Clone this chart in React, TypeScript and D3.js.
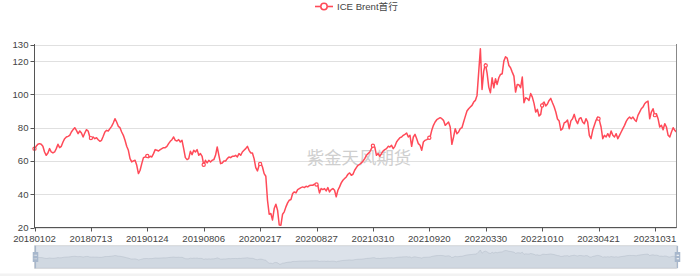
import React from 'react';
import * as d3 from 'd3';

const legendName = 'ICE Brent首行';
const watermarkText = '紫金天风期货';
const xLabels = ['20180102', '20180713', '20190124', '20190806', '20200217', '20200827', '20210310', '20210920', '20220330', '20221010', '20230421', '20231031'];
const yTicks = [20, 40, 60, 80, 100, 120, 130];
const categoryCount = 1549;
const labelInterval = 136;

const brentValues = [
  // 2018
  67.4, 68.8, 70, 70.4, 70, 68.8, 65.4, 63.4, 64.8, 67.4, 65.4, 64.8, 65.4, 67.4, 70, 68, 68.8, 71.4, 73.4, 74.4,
  74.8, 75.4, 77.4, 78.8, 80, 78.4, 76.4, 78, 76.8, 74.4, 76.8, 78.8, 78, 74.4, 73.4, 74.4, 73.4, 74, 72.8, 71.8,
  72.4, 74.8, 77.4, 78.4, 78, 79.4, 80.8, 82.8, 85.4, 83.4, 80.8, 80, 77.4, 75.4, 72.4, 68.8, 66.4, 61.4, 59.4, 60,
  60.4, 57.4, 52.4, 54.4, 58.4, 62,
  // 2019
  62.4, 63.4, 62, 62.8, 62.4, 64.4, 66.8, 66.4, 66, 66.8, 67.4, 68, 68, 68.8, 70.4, 71.8, 72.8, 74.4, 72.4, 72,
  72.8, 71.4, 72.4, 67.4, 62, 60.8, 61.4, 65.8, 63.8, 66.4, 65.4, 66.8, 63.4, 64.4, 62.8, 57.4, 60.4, 58.8, 60.4, 59.4,
  60.4, 60.8, 63.4, 68.4, 63.4, 58.4, 58.8, 60, 60, 61.4, 62.4, 62, 62.8, 62.8, 63.4, 62.4, 64.4, 63.4, 65.4, 66.4,
  67.4, 68.8, 66.4, 64.8,
  // 2020
  64.8, 61.4, 56, 54, 57.4, 58.8, 56.4, 52.4, 50.8, 36.4, 28, 28.4, 24.5, 31.4, 34, 30.4, 21.5, 21.4, 28, 29.4,
  32.4, 34.8, 36.4, 36.8, 40.4, 41.4, 40.8, 42.8, 43.4, 44, 44.4, 44, 44.8, 44.4, 45.2, 45.4, 45.4, 46, 46, 45.4,
  40.8, 43.4, 42.8, 43.4, 42, 44, 41.4, 42.8, 43.4, 42.4, 38.4, 42.4, 44.4, 46.8, 48.4, 49.4, 50.4, 52, 52.8, 51.4,
  52, 54.4, 56, 57.4,
  // 2021
  58, 58.8, 60, 61.4, 63.4, 64.4, 65.4, 67.4, 69.4, 68.4, 63.4, 64.4, 62.8, 64.4, 66, 66.8, 67.4, 68.8, 68.4, 69.4,
  67.4, 68.8, 71.4, 72.8, 74, 74.4, 75.4, 76, 76.8, 74.4, 75.4, 68.8, 74.4, 76, 73.4, 70.4, 69.4, 66.4, 71.4, 72.4,
  72.8, 73.4, 74.4, 78.4, 81.4, 83.4, 84.8, 85.4, 86, 85.4, 84.4, 81.4, 82.4, 83.4, 80.4, 70, 74.4, 79.4, 76.4, 77.4,
  79.4, 80, 83.4, 86.8,
  // 2022
  90, 91.4, 92.4, 93.4, 95.4, 96.4, 99.4, 113.4, 127.4, 103, 114, 118.4, 112.8, 104.4, 101, 110, 104, 109.4, 106, 110,
  112, 112.4, 120, 122.6, 121.8, 117.4, 116, 113.4, 111, 101.4, 106, 105.8, 104, 110.4, 95, 98, 97.5, 96.4, 100.5, 98.4,
  94.6, 89.4, 91, 87, 88, 94.4, 95.4, 93, 94.2, 96.4, 97.6, 95, 92.6, 89.4, 85.2, 84, 78.5, 79.4, 82.9, 83.4,
  84.6, 79.4, 84.1, 85.4,
  // 2023
  88, 84.4, 82.4, 85.4, 86, 83.4, 82.4, 85.4, 83.4, 75.4, 73.4, 78.4, 81.4, 84.4, 86.4, 84.4, 80.4, 73.4, 75.4, 74.4,
  76.4, 74.4, 78, 75.4, 74.4, 76.4, 73.4, 75.4, 77.4, 79.4, 81.4, 83.8, 85.4, 86.4, 85.4, 86.4, 84.8, 83.8, 87.4, 89.4,
  91.4, 92.4, 94.4, 95.4, 96, 85.4, 89.4, 91.4, 87.4, 88.4, 85.4, 80.4, 81.4, 78.8, 82.4, 80.4, 75.4, 74.4, 77.4, 80,
  78.4, 77.4,
];

const W = 700;
const H = 276;
const left = 34.5;
const right = 676.5;
const top = 44.5;
const bottom = 227.5;
const lineColor = '#ff4a58';
const axisColor = '#555';
const textColor = '#444';
const fontFamily = '"Liberation Sans", Arial, "Noto Sans CJK SC", sans-serif';
const fontSize = 9.6;

const sliderTop = 245.7;
const sliderBottom = 268.3;

export default function App() {
  const n = brentValues.length;
  const xCat = d3.scaleLinear().domain([0, categoryCount - 1]).range([left, right]);
  const catOf = (i: number) => (i * (categoryCount - 1)) / (n - 1);
  const y = d3.scaleLinear().domain([20, 130]).range([bottom, top]);

  const line = d3
    .line<number>()
    .x((_, i) => xCat(catOf(i)))
    .y((d) => y(d));

  const valueAtCat = (c: number) => {
    const t = (c / (categoryCount - 1)) * (n - 1);
    const i0 = Math.floor(t);
    const i1 = Math.min(n - 1, i0 + 1);
    return d3.interpolateNumber(brentValues[i0], brentValues[i1])(t - i0);
  };

  // dataZoom shadow (ECharts style extent padding)
  const ext = d3.extent(brentValues) as [number, number];
  const off = (ext[1] - ext[0]) * 0.3;
  const ys = d3.scaleLinear().domain([ext[0] - off, ext[1] + off]).range([sliderBottom, sliderTop]);
  const area = d3
    .area<number>()
    .x((_, i) => xCat(catOf(i)))
    .y0(sliderBottom)
    .y1((d) => ys(d));
  const shadowLine = d3
    .line<number>()
    .x((_, i) => xCat(catOf(i)))
    .y((d) => ys(d));

  const handlePath =
    'M8.2,13.6V3.9H6.3v9.7H3.1v14.9h3.3v9.7h1.8v-9.7h3.3V13.6H8.2z M9.7,24.4H4.8v-1.4h4.9V24.4z M9.7,19.1H4.8v-1.4h4.9V19.1z';
  const hScale = (sliderBottom - sliderTop) / 34.3;
  const handle = (cx: number) => (
    <path
      d={handlePath}
      fill="#a7b7cc"
      fillRule="evenodd"
      transform={`translate(${cx},${(sliderTop + sliderBottom) / 2}) scale(${hScale}) translate(-7.3,-21.05)`}
    />
  );

  const labelCats = xLabels.map((_, i) => i * labelInterval);

  return (
    <div style={{ position: 'fixed', left: 0, top: 0, width: W, height: H, background: '#fff' }}>
      <svg width={W} height={H} style={{ display: 'block' }} fontFamily={fontFamily}>
        {/* Legend */}
        <g>
          <line x1={315} x2={333} y1={6.5} y2={6.5} stroke={lineColor} strokeWidth={1.6} />
          <circle cx={324} cy={6.5} r={3.2} fill="#fff" stroke={lineColor} strokeWidth={1.5} />
          <text x={337} y={10} fontSize={fontSize} fill={textColor}>
            {legendName}
          </text>
        </g>

        {/* Grid lines */}
        {yTicks.map((t) => (
          <line key={'g' + t} x1={left} x2={right} y1={Math.round(y(t)) + 0.5} y2={Math.round(y(t)) + 0.5} stroke="#e0e0e0" strokeWidth={1} />
        ))}

        {/* Watermark */}
        <text x={359} y={163.5} fontSize={17.4} fill="#cfcfcf" textAnchor="middle" fontFamily='"Noto Sans CJK SC", sans-serif'>
          {watermarkText}
        </text>

        {/* Series line */}
        <path d={line(brentValues) || ''} fill="none" stroke={lineColor} strokeWidth={1.5} strokeLinejoin="round" />

        {/* Symbols at label positions */}
        {labelCats.map((c) => (
          <circle key={'s' + c} cx={xCat(c)} cy={y(valueAtCat(c))} r={1.6} fill="#fff" stroke={lineColor} strokeWidth={1.2} />
        ))}

        {/* Y axis */}
        <line x1={left} x2={left} y1={top - 0.5} y2={bottom + 0.5} stroke={axisColor} strokeWidth={1} />
        <line x1={right} x2={right} y1={top - 0.5} y2={bottom + 0.5} stroke="#888" strokeWidth={1} />
        {yTicks.map((t) => (
          <g key={'y' + t}>
            <line x1={left - 4} x2={left} y1={Math.round(y(t)) + 0.5} y2={Math.round(y(t)) + 0.5} stroke={axisColor} />
            <text x={28.5} y={y(t) + 3.4} fontSize={fontSize} fill={textColor} textAnchor="end">
              {t}
            </text>
          </g>
        ))}

        {/* X axis */}
        <line x1={left} x2={right} y1={bottom} y2={bottom} stroke={axisColor} strokeWidth={1} />
        {labelCats.map((c, i) => (
          <g key={'x' + c}>
            <line x1={Math.round(xCat(c)) + 0.5} x2={Math.round(xCat(c)) + 0.5} y1={bottom} y2={bottom + 4} stroke={axisColor} />
            <text x={xCat(c)} y={242.3} fontSize={fontSize} fill={textColor} textAnchor="middle">
              {xLabels[i]}
            </text>
          </g>
        ))}

        {/* Data zoom slider */}
        <g>
          <rect x={left} y={sliderTop} width={right - left} height={sliderBottom - sliderTop} fill="none" stroke="#ddd" />
          <path d={area(brentValues) || ''} fill="rgba(47,69,84,0.09)" stroke="none" />
          <path d={shadowLine(brentValues) || ''} fill="none" stroke="rgba(47,69,84,0.3)" strokeWidth={0.5} />
          <rect x={left} y={sliderTop} width={right - left} height={sliderBottom - sliderTop} fill="rgba(167,183,203,0.4)" />
          {handle(left + 1)}
          {handle(right + 1)}
        </g>

        <rect x={0} y={273.5} width={W} height={2.5} fill="#f2f2f2" />
      </svg>
    </div>
  );
}
